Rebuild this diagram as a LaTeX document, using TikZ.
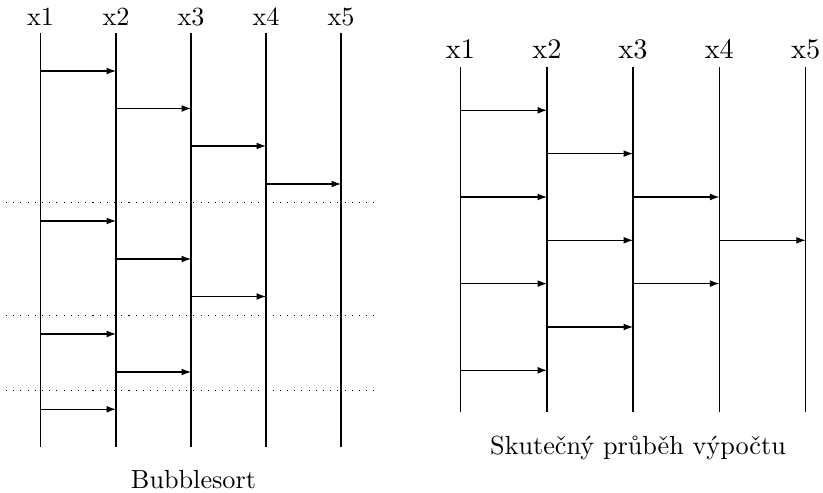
\documentclass[tikz,border=0pt]{standalone}
\usetikzlibrary{arrows.meta}
\begin{document}
\begin{tikzpicture}[x=0.3817pt,y=-0.3817pt,
  vline/.style={line width=0.4pt},
  arr/.style={line width=0.4pt,-{Latex[length=3.6pt,width=2.6pt]}},
  sep/.style={line width=0.4pt,dash pattern=on 0.4pt off 2.35pt},
  lab/.style={anchor=base,inner sep=0pt,font=\fontsize{10}{12}\selectfont},
  rlab/.style={anchor=base,inner sep=0pt,font=\fontsize{10.8}{13}\selectfont},
  captext/.style={anchor=base,inner sep=0pt,font=\fontsize{10}{12}\selectfont}]
\useasboundingbox (0,0) rectangle (823,493);
% ---------- left: Bubblesort ----------
\foreach \i/\x in {1/40.5,2/116,3/191,4/266,5/341}{
  \node[lab] (Ln\i) at (\x,26) {x\i};
  \coordinate (Lt\i) at (\x,33);
  \coordinate (Lb\i) at (\x,447);
  \draw[vline] (Lt\i) -- (Lb\i);
}
\foreach \r/\y in {1/71,2/108.5,3/146,4/184,5/221,6/259,7/296.5,8/334,9/372,10/409.3}{
  \coordinate (Lr\r) at (0,\y);
}
\foreach \a/\b/\r in {1/2/1,2/3/2,3/4/3,4/5/4,1/2/5,2/3/6,3/4/7,1/2/8,2/3/9,1/2/10}{
  \draw[arr] (Lt\a |- Lr\r) -- (Lt\b |- Lr\r);
}
\foreach \k/\y in {1/202.3,2/315.3,3/390.3}{
  \coordinate (Ds\k) at (6,\y);
  \coordinate (De\k) at (375,\y);
  \draw[sep] (Ds\k) -- (De\k);
}
\node[captext] (Lcap) at (193.5,488.5) {Bubblesort};
% ---------- right: actual computation ----------
\foreach \i/\x in {1/460.5,2/547,3/633,4/719.3,5/805.7}{
  \node[rlab] (Rn\i) at (\x,59) {x\i};
  \coordinate (Rt\i) at (\x,67.5);
  \coordinate (Rb\i) at (\x,411.7);
  \draw[vline] (Rt\i) -- (Rb\i);
}
\foreach \r/\y in {1/110.3,2/153.6,3/197,4/240.3,5/283.6,6/327,7/370.3}{
  \coordinate (Rr\r) at (0,\y);
}
\foreach \a/\b/\r in {1/2/1,2/3/2,1/2/3,3/4/3,2/3/4,4/5/4,1/2/5,3/4/5,2/3/6,1/2/7}{
  \draw[arr] (Rt\a |- Rr\r) -- (Rt\b |- Rr\r);
}
\node[captext] (Rcap) at (638,454) {Skutečný průběh výpočtu};
\end{tikzpicture}
\end{document}
